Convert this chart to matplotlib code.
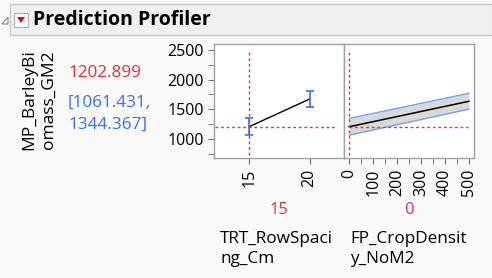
import numpy as np
import matplotlib.pyplot as plt
from matplotlib.patches import Rectangle, Polygon

plt.rcParams['font.family'] = ['Open Sans', 'DejaVu Sans']

# data
row_spacing = [15, 20]
row_pred = [1202.899, 1670]
row_lo = [1061.431, 1532]
row_hi = [1344.367, 1810]

density = [0, 500]
dens_pred = [1202.899, 1633]
dens_lo = [1061.431, 1500]
dens_hi = [1344.367, 1768]

current_y = 1202.899
current_ci = (1061.431, 1344.367)
response = 'MP_BarleyBi\nomass_GM2'
factors = ['TRT_RowSpaci\nng_Cm', 'FP_CropDensit\ny_NoM2']
current_x = ['15', '0']

W, H = 492, 278
BG = '#f9f9f9'
RED = '#e8303a'
BLUE = '#3d6ef0'
GRID = '#a0a0a0'

fig = plt.figure(figsize=(W / 100, H / 100), dpi=100, facecolor=BG)


def px(x, y):
    return x / W, 1 - y / H


def add_panel(x0, x1, y0, y1):
    return fig.add_axes([x0 / W, 1 - y1 / H, (x1 - x0) / W, (y1 - y0) / H])


# header bar
fig.patches.append(Rectangle(px(10, 35), 482 / W, 31 / H, transform=fig.transFigure,
                             facecolor='#f0f0f0', edgecolor='#c8c8c8', lw=1))
fig.patches.append(Polygon([px(2, 24), px(8, 24), px(8, 17)], closed=True,
                           transform=fig.transFigure, facecolor='none',
                           edgecolor='#888888', lw=0.8))
fig.patches.append(Rectangle(px(14, 27), 14 / W, 14 / H, transform=fig.transFigure,
                             facecolor='#fafafa', edgecolor='#b0b0b0', lw=0.8))
fig.patches.append(Polygon([px(17, 17), px(25, 17), px(21, 23)], closed=True,
                           transform=fig.transFigure, facecolor='#d01020',
                           edgecolor='none'))
fig.text(*px(33, 20), 'Prediction Profiler', fontsize=14, fontweight='bold',
         va='center', ha='left')

ylim = (675, 2600)


def style(ax):
    ax.set_facecolor('white')
    for s in ax.spines.values():
        s.set_color(GRID)
        s.set_linewidth(1)
    ax.tick_params(colors='#707070', labelcolor='black', labelsize=11.5,
                   length=4, width=0.8, direction='out')
    ax.set_ylim(*ylim)


# panel 1: row spacing
ax1 = add_panel(214, 344, 44, 158)
style(ax1)
ax1.set_xlim(12.1, 22.85)
ax1.plot(row_spacing, row_pred, color='black', lw=1)
yerr = [np.array(row_pred) - np.array(row_lo), np.array(row_hi) - np.array(row_pred)]
ax1.errorbar(row_spacing, row_pred, yerr=yerr, fmt='none', ecolor=BLUE,
             elinewidth=1.2, capsize=3, capthick=1.2)
ax1.plot([15, 15], [730, 2470], color=RED, ls=(0, (2, 2)), lw=1)
ax1.plot([12.2, 22.3], [current_y] * 2, color=RED, ls=(0, (2, 2)), lw=1)
ax1.set_xticks(row_spacing)
ax1.set_xticklabels([str(v) for v in row_spacing], rotation=90)
ax1.set_yticks([1000, 1500, 2000, 2500])
ax1.set_yticks(np.arange(750, 2600, 250), minor=True)
ax1.tick_params(axis='y', which='minor', length=4, colors='#707070')

# panel 2: crop density
ax2 = add_panel(344, 474, 44, 158)
style(ax2)
ax2.set_xlim(-22, 521)
ax2.fill_between(density, dens_lo, dens_hi, color='#d8d8d8', lw=0)
ax2.plot(density, dens_lo, color='#7d9ef2', lw=1)
ax2.plot(density, dens_hi, color='#7d9ef2', lw=1)
ax2.plot(density, dens_pred, color='black', lw=1.1)
ax2.plot([0, 0], [730, 2470], color=RED, ls=(0, (2, 2)), lw=1)
ax2.plot([0, 495], [current_y] * 2, color=RED, ls=(0, (2, 2)), lw=1)
ax2.set_xticks(np.arange(0, 501, 100))
ax2.set_xticklabels([str(v) for v in range(0, 501, 100)], rotation=90)
ax2.set_xticks(np.arange(0, 501, 50), minor=True)
ax2.tick_params(axis='x', which='minor', length=4, colors='#707070')
ax2.set_yticks([])

# response label and current values
fig.text(*px(39, 100), response, rotation=90, fontsize=12.5, ha='center',
         va='center', linespacing=1.25)
fig.text(*px(68, 73), f'{current_y:.3f}', color=RED, fontsize=12.3,
         ha='left', va='center')
fig.text(*px(68, 103), f'[{current_ci[0]:.3f},', color=BLUE, fontsize=12.3,
         ha='left', va='center')
fig.text(*px(68, 125), f'{current_ci[1]:.3f}]', color=BLUE, fontsize=12.3,
         ha='left', va='center')

# factor labels
for cx, lab, val in [(279, factors[0], current_x[0]), (409, factors[1], current_x[1])]:
    fig.text(*px(cx, 210), val, color=RED, fontsize=12, ha='center', va='center')
    fig.text(*px(cx - 59, 249), lab, fontsize=12.3, ha='left', va='center',
             linespacing=1.4)

fig.savefig('out.png', dpi=100, facecolor=BG)
